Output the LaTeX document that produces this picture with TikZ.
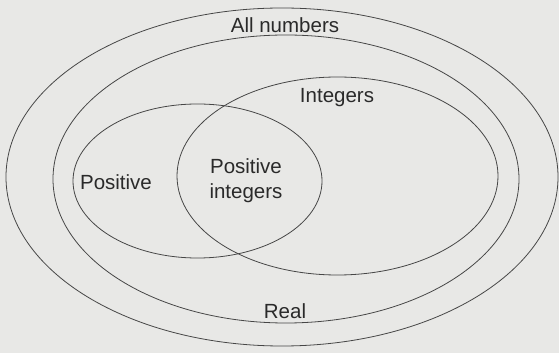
\documentclass[tikz,border=0pt]{standalone}
\usepackage{fontspec}
\setmainfont{Liberation Sans}
\usetikzlibrary{positioning}
\definecolor{paper}{RGB}{232,232,230}
\definecolor{ink}{RGB}{70,70,70}

\begin{document}
\begin{tikzpicture}[
  x=1pt, y=1pt,
  font=\fontsize{20.5}{25}\selectfont,
  set/.style={draw=ink, line width=0.8pt},
  lbl/.style={text=ink!60!black, align=center, inner sep=0pt}
]
\useasboundingbox[fill=paper] (0,0) rectangle (559,353);
\coordinate (cAll) at (282,176);
\coordinate (cReal) at (286,174);
\coordinate (cInt) at (337.5,177);
\coordinate (cPos) at (197.5,172);
\draw[set] (cAll) ellipse [x radius=276, y radius=169];
\draw[set] (cReal) ellipse [x radius=233, y radius=144];
\draw[set] (cInt) ellipse [x radius=160.5, y radius=99];
\draw[set] (cPos) ellipse [x radius=124.5, y radius=77];
\node[lbl] (all) at (285,328) {All numbers};
\node[lbl] (real) at (285,42) {Real};
\node[lbl] (int) at (337,255) {Integers};
\node[lbl] (pos) at (116,171) {Positive};
\node[lbl] (posint) at (246,172) {Positive\\integers};
\end{tikzpicture}
\end{document}
